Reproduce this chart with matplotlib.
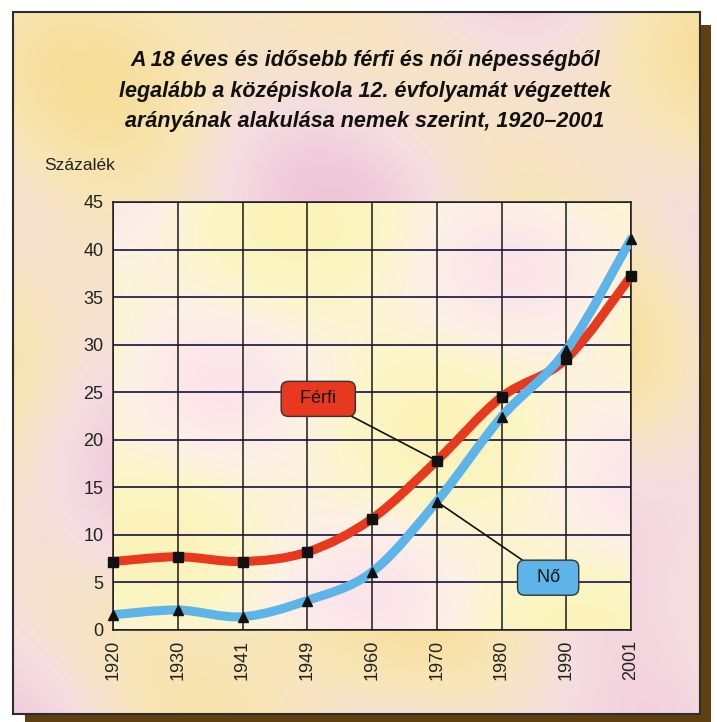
import matplotlib
matplotlib.use("Agg")
import matplotlib.pyplot as plt
from matplotlib.path import Path
from matplotlib.patches import PathPatch, Rectangle
from matplotlib.colors import LinearSegmentedColormap
import numpy as np

plt.rcParams['font.family'] = ['Liberation Sans', 'DejaVu Sans']

# data
years = ['1920', '1930', '1941', '1949', '1960', '1970', '1980', '1990', '2001']
ferfi = [7.2, 7.7, 7.2, 8.2, 11.7, 17.8, 24.5, 28.5, 37.2]
no = [1.6, 2.1, 1.4, 3.1, 6.1, 13.5, 22.4, 29.4, 41.1]
yticks = [0, 5, 10, 15, 20, 25, 30, 35, 40, 45]

title = ("A 18 éves és idősebb férfi és női népességből\n"
         "legalább a középiskola 12. évfolyamát végzettek\n"
         "arányának alakulása nemek szerint, 1920–2001")

red = '#e8381e'
blue = '#5cb4e8'

W, H = 717, 722
fig = plt.figure(figsize=(W / 100, H / 100), dpi=100, facecolor='white')

# background panel with shadow and pastel texture
bg = fig.add_axes([0, 0, 1, 1])
bg.set_xlim(0, W)
bg.set_ylim(H, 0)
bg.axis('off')
bg.add_patch(Rectangle((25, 25), 686, 697, facecolor='#5e4012', edgecolor='none', zorder=0))
gx, gy = np.meshgrid(np.arange(0, 688, 3), np.arange(0, 703, 3))
field = (np.sin(gx / 95.0 + gy / 140.0) + 0.7 * np.sin(gx / 55.0 - gy / 80.0 + 1.3)
         + 0.5 * np.sin(gy / 45.0 + 0.4))
cm_bg = LinearSegmentedColormap.from_list('bg', ['#efc6d8', '#f5dde2', '#f8e6b8', '#f6dd98'])
bg.imshow(field, cmap=cm_bg, extent=(13, 700, 714, 12), aspect='auto', zorder=1,
          interpolation='bicubic')
bg.add_patch(Rectangle((13, 12), 687, 702, facecolor='none', edgecolor='#2e2e2e', lw=1.5, zorder=2))

bg.text(365, 91, title, ha='center', va='center', fontsize=15.5, fontweight='bold',
        fontstyle='italic', linespacing=1.6, color='#111111', zorder=3)
bg.text(44, 166, 'Százalék', ha='left', va='center', fontsize=12.5, color='#222222', zorder=3)

# main chart
left, right, top, bottom = 113, 631, 202, 630
ax = fig.add_axes([left / W, (H - bottom) / H, (right - left) / W, (bottom - top) / H])
ax.set_facecolor('none')
x = np.arange(len(years))
ax.set_xlim(0, len(years) - 1)
ax.set_ylim(0, 45)

px, py = np.meshgrid(np.linspace(0, 8, 120), np.linspace(0, 45, 120))
inner = np.sin(px * 1.1 + py / 9.0) + 0.8 * np.sin(py / 4.5 - px * 0.6)
cm_in = LinearSegmentedColormap.from_list('in', ['#fbe4ea', '#fdf1e6', '#fcf6c8', '#fbf3b8'])
ax.imshow(inner, cmap=cm_in, extent=(0, 8, 0, 45), aspect='auto', origin='lower',
          zorder=0, interpolation='bicubic')

for v in yticks:
    ax.axhline(v, color='#26244e', lw=1.3, zorder=1)
for i in x:
    ax.axvline(i, color='#1a1a1a', lw=1.1, zorder=1)

ax.set_xticks(x)
ax.set_xticklabels(years, rotation=90, fontsize=13, color='#222222')
ax.set_yticks(yticks)
ax.set_yticklabels([str(v) for v in yticks], fontsize=13, color='#222222')
ax.tick_params(length=0, pad=7)
for s in ax.spines.values():
    s.set_color('#1a1a1a')
    s.set_linewidth(1.1)


def smooth_path(xs, ys):
    pts = np.column_stack([xs, ys]).astype(float)
    verts = [pts[0]]
    codes = [Path.MOVETO]
    n = len(pts)
    for i in range(n - 1):
        p0 = pts[max(i - 1, 0)]
        p1 = pts[i]
        p2 = pts[i + 1]
        p3 = pts[min(i + 2, n - 1)]
        verts += [p1 + (p2 - p0) / 6.0, p2 - (p3 - p1) / 6.0, p2]
        codes += [Path.CURVE4] * 3
    return Path(verts, codes)


ax.add_patch(PathPatch(smooth_path(x, ferfi), facecolor='none', edgecolor=red, lw=6.5,
                       capstyle='round', zorder=3))
ax.add_patch(PathPatch(smooth_path(x, no), facecolor='none', edgecolor=blue, lw=6.5,
                       capstyle='round', zorder=4))
ax.plot(x, ferfi, ls='none', marker='s', ms=6.5, color='#111111', zorder=5, clip_on=False)
ax.plot(x, no, ls='none', marker='^', ms=7, color='#111111', zorder=5, clip_on=False)

ax.annotate('  Férfi  ', xy=(5, ferfi[5]), xytext=(3.17, 24.3), ha='center', va='center',
            fontsize=13, color='#111111', zorder=6,
            bbox=dict(boxstyle='round,pad=0.5,rounding_size=0.4', fc=red, ec='#333333', lw=1),
            arrowprops=dict(arrowstyle='-', color='#111111', lw=1.2, shrinkA=0, shrinkB=0))
ax.annotate('  Nő  ', xy=(5, no[5]), xytext=(6.72, 5.5), ha='center', va='center',
            fontsize=13, color='#111111', zorder=6,
            bbox=dict(boxstyle='round,pad=0.5,rounding_size=0.4', fc=blue, ec='#333333', lw=1),
            arrowprops=dict(arrowstyle='-', color='#111111', lw=1.2, shrinkA=0, shrinkB=0))

fig.savefig('out.png', dpi=100, facecolor='white')
